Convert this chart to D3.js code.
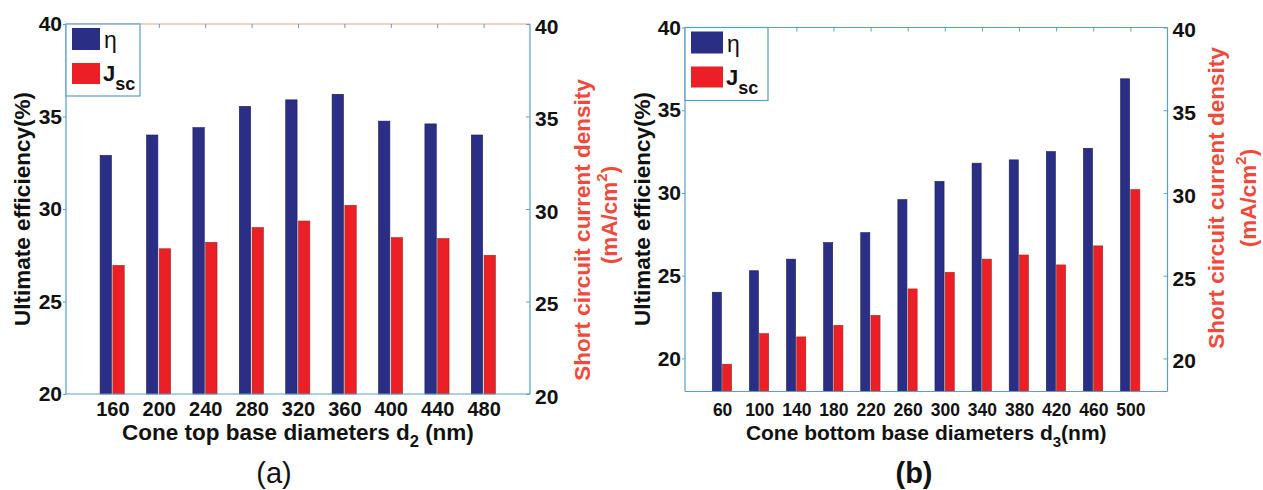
<html>
  <head>
    <title>Efficiency and Jsc bars</title>
    <script src="https://cdnjs.cloudflare.com/ajax/libs/d3/7.8.5/d3.min.js"></script>
    <style>
      body { margin: 0; background: #fff; }
      svg { display: block; font-family: 'Liberation Sans', Arial, sans-serif; }
      .tick text { fill: #111; font-weight: bold; }
      .ytitle, .xtitle { font-weight: bold; fill: #111; }
      .rtitle { font-weight: bold; fill: #f04a3c; }
    </style>
  </head>
  <body>
    <svg id="chart" width="1263" height="490"></svg>

    <script>
      // Panel (a): cone top base diameter d2
      const catsA = [160, 200, 240, 280, 320, 360, 400, 440, 480];
      const etaA = [32.9, 34.0, 34.4, 35.55, 35.9, 36.2, 34.75, 34.6, 34.0];
      const jscA = [26.95, 27.85, 28.2, 29.0, 29.35, 30.2, 28.45, 28.4, 27.5];

      // Panel (b): cone bottom base diameter d3
      const catsB = [60, 100, 140, 180, 220, 260, 300, 340, 380, 420, 460, 500];
      const etaB = [24.0, 25.3, 26.0, 27.0, 27.6, 29.6, 30.7, 31.8, 32.0, 32.5, 32.7, 36.9];
      const jscB = [19.65, 21.5, 21.3, 22.0, 22.6, 24.2, 25.2, 26.0, 26.25, 25.65, 26.8, 30.2];

      const yTicks = [20, 25, 30, 35, 40];

      const BLUE = '#2b2e85';
      const RED = '#ec1f26';
      const AXIS = '#5b9fc6';

      const svg = d3.select('#chart');

      function drawPanel(p) {
        const n = p.cats.length;
        const x = d3.scaleLinear().domain([0, n + 1]).range([p.left, p.right]);
        const y = d3.scaleLinear().domain(p.yDomain).range([p.bottom, p.top]);
        const idx = d3.range(1, n + 1);
        const g = svg.append('g');

        // bars
        const bw = 0.245;
        g.selectAll('.eta').data(p.eta).enter().append('rect')
          .attr('x', (d, i) => x(i + 1 - 0.265))
          .attr('width', x(bw) - x(0))
          .attr('y', d => y(d))
          .attr('height', d => y(p.yDomain[0]) - y(d))
          .attr('fill', BLUE)
          .attr('stroke', '#1b1d5a').attr('stroke-width', 0.6);

        g.selectAll('.jsc').data(p.jsc).enter().append('rect')
          .attr('x', (d, i) => x(i + 1 + 0.01))
          .attr('width', x(bw) - x(0))
          .attr('y', d => y(d))
          .attr('height', d => y(p.yDomain[0]) - y(d))
          .attr('fill', RED)
          .attr('stroke', '#9a2a22').attr('stroke-width', 0.6);

        // frame
        g.append('line').attr('x1', p.left).attr('x2', p.right)
          .attr('y1', p.top).attr('y2', p.top)
          .attr('stroke', p.topColor).attr('stroke-width', 1.2);
        g.append('line').attr('x1', p.left).attr('x2', p.right)
          .attr('y1', p.bottom).attr('y2', p.bottom)
          .attr('stroke', AXIS).attr('stroke-width', 1.2);

        // top inner ticks
        const topAxis = g.append('g')
          .attr('transform', 'translate(0,' + p.top + ')')
          .call(d3.axisTop(x).tickValues(idx).tickSize(-4).tickFormat(''));
        topAxis.select('.domain').remove();
        topAxis.selectAll('line').attr('stroke', AXIS);

        // x labels
        const xAxis = g.append('g')
          .attr('transform', 'translate(0,' + p.bottom + ')')
          .call(d3.axisBottom(x).tickValues(idx).tickSize(0).tickPadding(p.xPad)
            .tickFormat(i => p.cats[i - 1]));
        xAxis.select('.domain').remove();
        xAxis.selectAll('text').style('font-size', p.xFont + 'px');

        // left axis
        const yl = g.append('g')
          .attr('transform', 'translate(' + p.left + ',0)')
          .call(d3.axisLeft(y).tickValues(yTicks).tickSize(3).tickPadding(1).tickSizeOuter(0));
        yl.select('.domain').attr('stroke', AXIS).attr('stroke-width', 1.2)
          .attr('d', 'M0,' + p.top + 'V' + p.bottom);
        yl.selectAll('line').attr('stroke', AXIS);
        yl.selectAll('text').style('font-size', '21px');

        // right axis
        const yr = g.append('g')
          .attr('transform', 'translate(' + p.right + ',0)')
          .call(d3.axisRight(y).tickValues(yTicks).tickSize(-4).tickPadding(5).tickSizeOuter(0));
        yr.select('.domain').attr('stroke', AXIS).attr('stroke-width', 1.2)
          .attr('d', 'M0,' + p.top + 'V' + p.bottom);
        yr.selectAll('line').attr('stroke', AXIS);
        yr.selectAll('text').style('font-size', '21px').attr('dy', '0.45em');

        // legend
        const lg = g.append('g');
        lg.append('rect')
          .attr('x', p.left).attr('y', p.top)
          .attr('width', p.legW).attr('height', p.legH)
          .attr('fill', '#fff').attr('stroke', AXIS).attr('stroke-width', 1.2);
        lg.append('rect').attr('x', p.left + 6).attr('y', p.top + 4)
          .attr('width', p.swW).attr('height', 22).attr('fill', BLUE);
        lg.append('rect').attr('x', p.left + 6).attr('y', p.top + 39)
          .attr('width', p.swW).attr('height', 21).attr('fill', RED);
        lg.append('text').attr('x', p.left + p.swW + 10).attr('y', p.top + 24)
          .style('font-size', '23px').attr('fill', '#111').text('η');
        const jt = lg.append('text').attr('x', p.left + p.swW + 9).attr('y', p.top + 57)
          .style('font-size', '22px').style('font-weight', 'bold').attr('fill', '#111');
        jt.append('tspan').text('J');
        jt.append('tspan').attr('dy', 9).style('font-size', '18px').text('sc');

        // axis titles
        const cx = (p.left + p.right) / 2;
        const xt = g.append('text').attr('class', 'xtitle')
          .attr('x', cx).attr('y', 440).attr('text-anchor', 'middle')
          .style('font-size', p.xtFont + 'px');
        xt.append('tspan').text(p.xTitle[0]);
        xt.append('tspan').attr('dy', 7).style('font-size', (p.xtFont - 6) + 'px').text(p.xTitle[1]);
        xt.append('tspan').attr('dy', -7).text(p.xTitle[2]);

        g.append('text').attr('class', 'ytitle')
          .attr('transform', 'translate(' + p.yTitleX + ',209) rotate(-90)')
          .attr('text-anchor', 'middle').attr('dominant-baseline', 'central')
          .style('font-size', '22.5px')
          .text('Ultimate efficiency(%)');

        g.append('text').attr('class', 'rtitle')
          .attr('transform', 'translate(' + p.rTitleX[0] + ',' + p.rTitleY[0] + ') rotate(-90)')
          .attr('text-anchor', 'middle').attr('dominant-baseline', 'central')
          .style('font-size', '22.5px')
          .text('Short circuit current density');
        const r2 = g.append('text').attr('class', 'rtitle')
          .attr('transform', 'translate(' + p.rTitleX[1] + ',' + p.rTitleY[1] + ') rotate(-90)')
          .attr('text-anchor', 'middle').attr('dominant-baseline', 'central')
          .style('font-size', '22.5px');
        r2.append('tspan').text('(mA/cm');
        r2.append('tspan').attr('dy', -8).style('font-size', '15px').text('2');
        r2.append('tspan').attr('dy', 8).text(')');

        // panel label
        svg.append('text')
          .attr('x', p.tagX).attr('y', 483).attr('text-anchor', 'middle')
          .style('font-size', '29px').style('font-weight', p.tagWeight)
          .attr('fill', '#111').text(p.tag);
      }

      drawPanel({
        cats: catsA, eta: etaA, jsc: jscA,
        left: 66, right: 530, top: 24, bottom: 394, yDomain: [20, 40],
        topColor: '#e9a08c',
        xFont: 20, xPad: 8, xtFont: 22.5,
        legW: 74, legH: 72, swW: 28,
        xTitle: ['Cone top base diameters d', '2', ' (nm)'],
        yTitleX: 22, rTitleX: [582, 609], rTitleY: [230, 215],
        tag: '(a)', tagX: 274, tagWeight: 'normal'
      });

      drawPanel({
        cats: catsB, eta: etaB, jsc: jscB,
        left: 685, right: 1167.5, top: 27.5, bottom: 391.5, yDomain: [18, 40],
        topColor: AXIS,
        xFont: 17.5, xPad: 12, xtFont: 21,
        legW: 83, legH: 73, swW: 32,
        xTitle: ['Cone bottom base diameters d', '3', '(nm)'],
        yTitleX: 642, rTitleX: [1216, 1248], rTitleY: [198, 198],
        tag: '(b)', tagX: 914, tagWeight: 'bold'
      });
    </script>
  </body>
</html>
